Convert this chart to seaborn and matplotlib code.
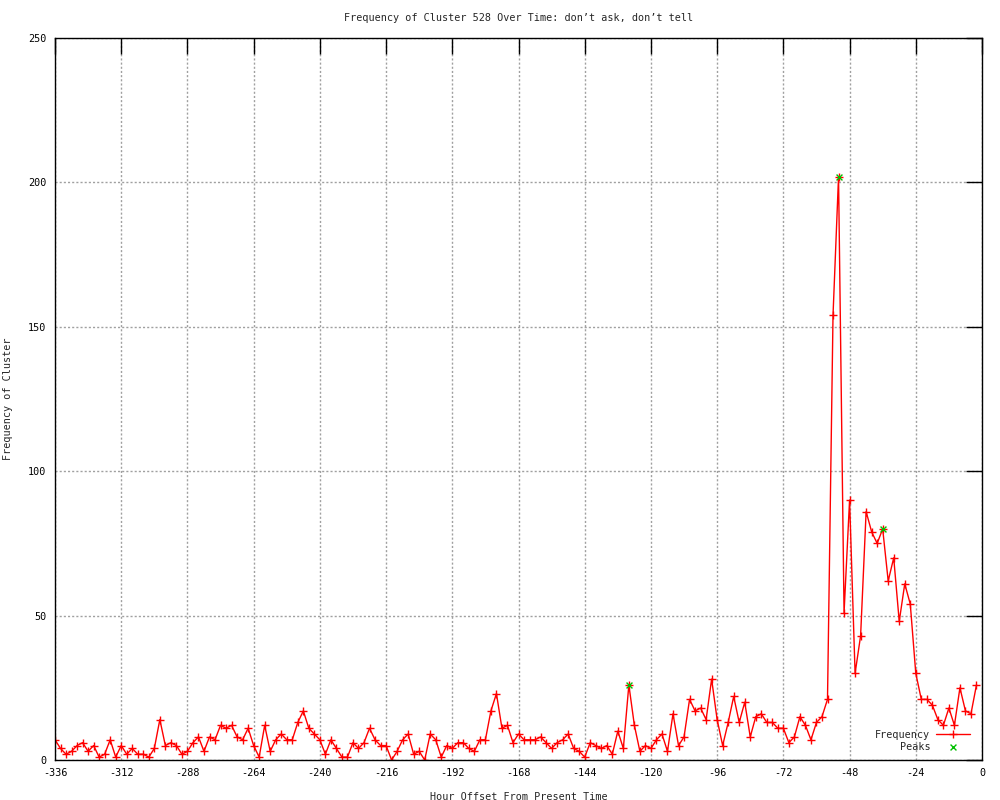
import matplotlib
matplotlib.use("Agg")
import matplotlib.pyplot as plt
import pandas as pd
import seaborn as sns

# hourly offsets (every 2 hours) and cluster frequency
hours = list(range(-336, 0, 2))
frequency = [
    7, 4, 2, 3, 5, 6, 3, 5, 1, 2, 7, 1, 5, 2, 4, 2, 2, 1, 4, 14,
    5, 6, 5, 2, 3, 6, 8, 3, 8, 7, 12, 11, 12, 8, 7, 11, 5, 1, 12, 3,
    7, 9, 7, 7, 13, 17, 11, 9, 7, 2, 7, 4, 1, 1, 6, 4, 6, 11, 7, 5,
    5, 0, 3, 7, 9, 2, 3, 0, 9, 7, 1, 5, 4, 6, 6, 4, 3, 7, 7, 17,
    23, 11, 12, 6, 9, 7, 7, 7, 8, 6, 4, 6, 7, 9, 4, 3, 1, 6, 5, 4,
    5, 2, 10, 4, 26, 12, 3, 5, 4, 7, 9, 3, 16, 5, 8, 21, 17, 18, 14, 28,
    14, 5, 13, 22, 13, 20, 8, 15, 16, 13, 13, 11, 11, 6, 8, 15, 12, 7, 13, 15,
    21, 154, 202, 51, 90, 30, 43, 86, 79, 75, 80, 62, 70, 48, 61, 54, 30, 21, 21, 19,
    14, 12, 18, 12, 25, 17, 16, 26,
]
peak_hours = [-128, -52, -36]
peak_values = [26, 202, 80]

x_ticks = list(range(-336, 1, 24))
y_ticks = list(range(0, 251, 50))

sns.set_style("white")
plt.rcParams['font.family'] = ['DejaVu Sans Mono']
plt.rcParams['axes.unicode_minus'] = False
fs = 7.3

fig, ax = plt.subplots(figsize=(10, 8), dpi=100)
fig.subplots_adjust(left=0.055, right=0.982, top=0.9525, bottom=0.05)

df = pd.DataFrame({'hour': hours, 'freq': frequency})
sns.lineplot(data=df, x='hour', y='freq', ax=ax, color='#ff0000', lw=1,
             marker='+', markersize=5.5, markeredgewidth=1,
             markeredgecolor='#ff0000', label='Frequency')
sns.scatterplot(x=peak_hours, y=peak_values, ax=ax, marker='x', color='#00c000',
                s=18, linewidth=1, label='Peaks', zorder=5)

ax.set_xlim(-336, 0)
ax.set_ylim(0, 250)
ax.set_xticks(x_ticks)
ax.set_yticks(y_ticks)
ax.tick_params(direction='in', length=11.5, width=1, top=True, right=True,
               labelsize=fs, colors='black', pad=6)
ax.grid(True, ls=(0, (1.5, 1.5)), color='#a0a0a0', lw=1)
for s in ax.spines.values():
    s.set_color('black')
    s.set_linewidth(1)

ax.set_xlabel('Hour Offset From Present Time', fontsize=fs)
ax.set_ylabel('Frequency of Cluster', fontsize=fs)
ax.xaxis.set_label_coords(0.5, -0.044)
ax.yaxis.set_label_coords(-0.045, 0.5)
ax.text(0.5, 1.028, 'Frequency of Cluster 528 Over Time: don’t ask, don’t tell',
        transform=ax.transAxes, ha='center', va='center', fontsize=fs)

ax.legend(loc='lower right', bbox_to_anchor=(0.987, 0.011), frameon=False,
          markerfirst=False, fontsize=fs, borderpad=0, borderaxespad=0,
          handlelength=3.3, handletextpad=0.6, labelspacing=0.25)

plt.savefig('out.png', dpi=100)
